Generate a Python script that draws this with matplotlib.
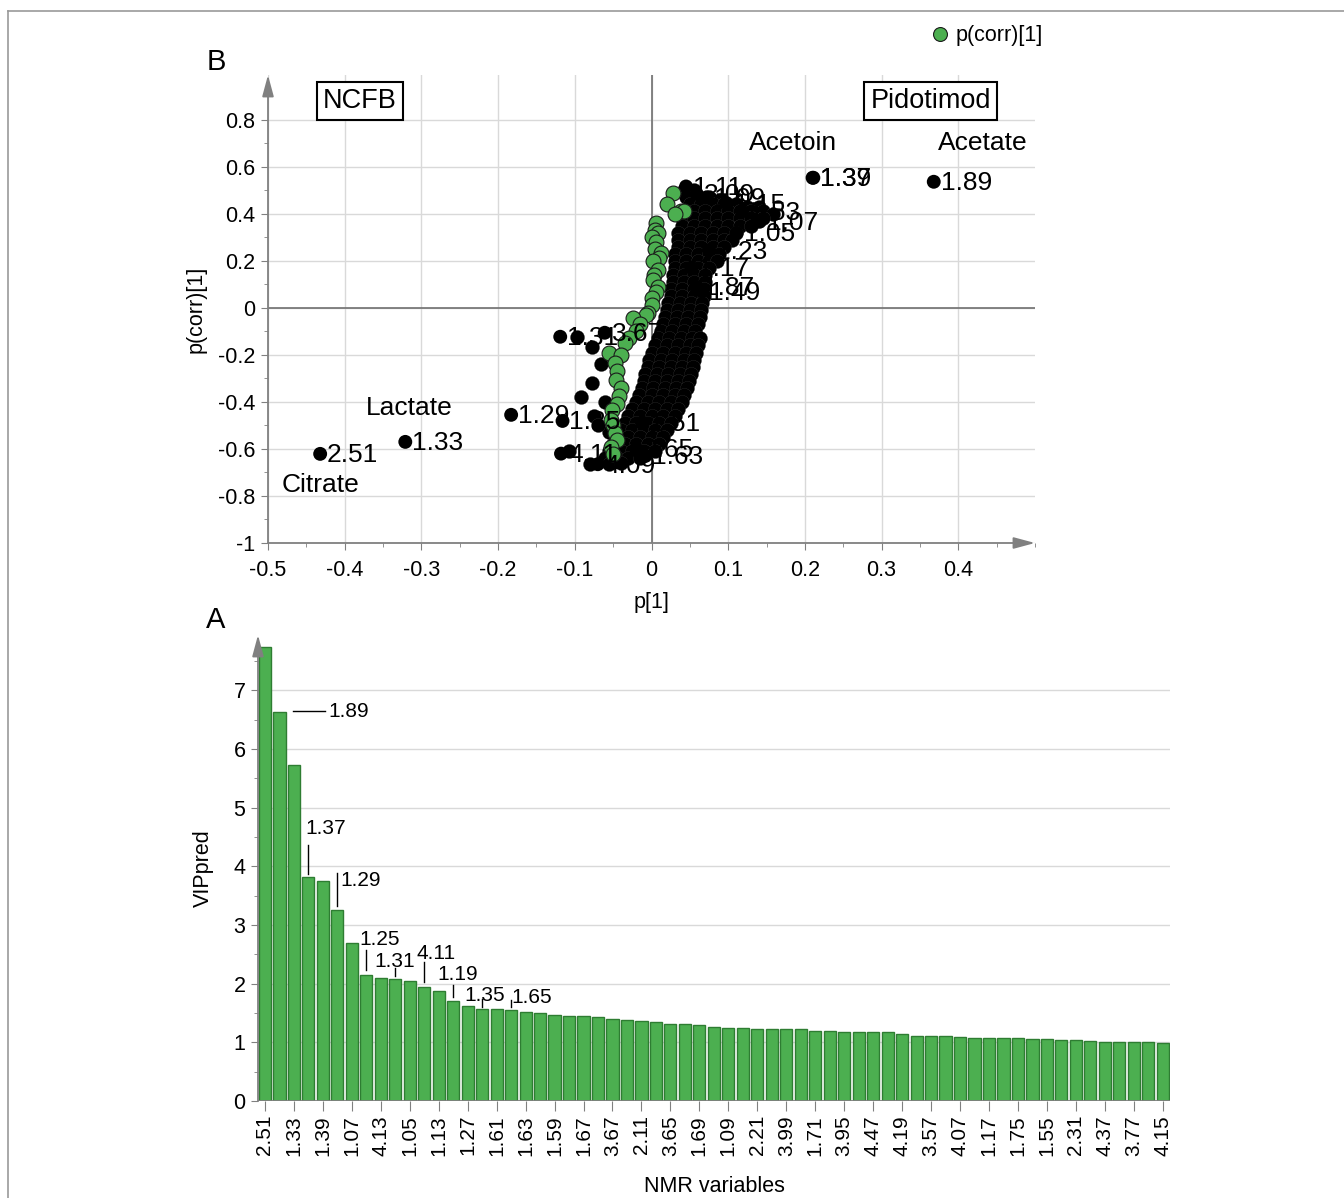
# VIP and S-plot style loadings figure (NCFB vs Pidotimod)

import numpy as np
import matplotlib.pyplot as plt
from matplotlib.lines import Line2D
from matplotlib.ticker import MultipleLocator, FuncFormatter

plt.rcParams['font.family'] = ['Liberation Sans', 'DejaVu Sans']
plt.rcParams['axes.unicode_minus'] = False

# ---------------- data: panel B (p[1] vs p(corr)[1]) ----------------
# labelled black variables (outliers + a few inside the cloud)
named_x = [-0.432, -0.321, -0.183, -0.116, 0.210, 0.211, 0.368,
           0.045, 0.059, 0.072, 0.098, 0.118, 0.141, 0.111, 0.075,
           0.052, 0.058, 0.066, -0.012, -0.118, -0.070, -0.119, -0.061,
           -0.020, -0.008]
named_y = [-0.621, -0.570, -0.455, -0.481, 0.553, 0.553, 0.536,
           0.516, 0.485, 0.470, 0.445, 0.410, 0.366, 0.319, 0.245,
           0.170, 0.090, 0.070, -0.489, -0.620, -0.665, -0.123, -0.106,
           -0.600, -0.630]
named_lab = ['2.51', '1.33', '1.29', '1.25', '1.37', '1.39', '1.89',
             '1.11', '3.09', '1.09', '1.15', '1.53', '1.07', '1.05', '1.23',
             '1.17', '1.87', '1.49', '1.51', '4.11', '4.09', '1.31', '3.67',
             '3.65', '1.63']

# unlabelled black variables forming the dense cloud
cluster_pts = [
    (0.042, 0.50), (0.055, 0.50),
    (0.045, 0.47), (0.060, 0.47), (0.075, 0.47), (0.090, 0.46),
    (0.050, 0.44), (0.065, 0.44), (0.080, 0.44), (0.095, 0.44), (0.110, 0.44), (0.125, 0.43), (0.140, 0.43),
    (0.040, 0.41), (0.055, 0.41), (0.070, 0.41), (0.085, 0.41), (0.100, 0.41), (0.115, 0.41), (0.130, 0.41), (0.145, 0.41), (0.158, 0.40),
    (0.040, 0.38), (0.055, 0.38), (0.070, 0.38), (0.085, 0.38), (0.100, 0.38), (0.115, 0.38), (0.130, 0.38), (0.145, 0.38),
    (0.040, 0.35), (0.055, 0.35), (0.070, 0.35), (0.085, 0.35), (0.100, 0.35), (0.115, 0.35), (0.130, 0.35),
    (0.035, 0.32), (0.050, 0.32), (0.065, 0.32), (0.080, 0.32), (0.095, 0.32), (0.110, 0.32),
    (0.035, 0.29), (0.050, 0.29), (0.065, 0.29), (0.080, 0.29), (0.095, 0.29), (0.105, 0.29),
    (0.035, 0.26), (0.050, 0.26), (0.065, 0.26), (0.080, 0.26), (0.095, 0.26),
    (0.030, 0.23), (0.045, 0.23), (0.060, 0.23), (0.075, 0.23), (0.088, 0.23),
    (0.030, 0.20), (0.045, 0.20), (0.060, 0.20), (0.075, 0.20), (0.085, 0.20),
    (0.030, 0.17), (0.045, 0.17), (0.060, 0.17), (0.075, 0.17),
    (0.028, 0.14), (0.042, 0.14), (0.056, 0.14), (0.070, 0.14),
    (0.028, 0.11), (0.042, 0.11), (0.056, 0.11), (0.070, 0.11),
    (0.025, 0.08), (0.040, 0.08), (0.055, 0.08), (0.068, 0.08),
    (0.025, 0.05), (0.040, 0.05), (0.055, 0.05), (0.068, 0.05),
    (0.022, 0.02), (0.037, 0.02), (0.052, 0.02), (0.066, 0.02),
    (0.020, -0.01), (0.035, -0.01), (0.050, -0.01), (0.065, -0.01),
    (0.018, -0.04), (0.033, -0.04), (0.048, -0.04), (0.063, -0.04),
    (0.015, -0.07), (0.030, -0.07), (0.045, -0.07), (0.060, -0.07),
    (0.012, -0.10), (0.027, -0.10), (0.042, -0.10), (0.057, -0.10),
    (0.008, -0.13), (0.023, -0.13), (0.038, -0.13), (0.053, -0.13), (0.063, -0.13),
    (0.005, -0.16), (0.020, -0.16), (0.035, -0.16), (0.050, -0.16), (0.061, -0.16),
    (0.000, -0.19), (0.015, -0.19), (0.030, -0.19), (0.045, -0.19), (0.058, -0.19),
    (-0.003, -0.22), (0.012, -0.22), (0.027, -0.22), (0.042, -0.22), (0.056, -0.22),
    (-0.005, -0.25), (0.010, -0.25), (0.025, -0.25), (0.040, -0.25), (0.054, -0.25),
    (-0.008, -0.28), (0.007, -0.28), (0.022, -0.28), (0.037, -0.28), (0.052, -0.28),
    (-0.010, -0.31), (0.005, -0.31), (0.020, -0.31), (0.035, -0.31), (0.049, -0.31),
    (-0.013, -0.34), (0.002, -0.34), (0.017, -0.34), (0.032, -0.34), (0.046, -0.34),
    (-0.016, -0.37), (0.000, -0.37), (0.015, -0.37), (0.030, -0.37), (0.043, -0.37),
    (-0.020, -0.40), (-0.005, -0.40), (0.010, -0.40), (0.025, -0.40), (0.040, -0.40),
    (-0.025, -0.43), (-0.010, -0.43), (0.005, -0.43), (0.020, -0.43), (0.035, -0.43),
    (-0.030, -0.46), (-0.015, -0.46), (0.000, -0.46), (0.015, -0.46), (0.030, -0.46),
    (-0.035, -0.49), (-0.020, -0.49), (-0.005, -0.49), (0.010, -0.49), (0.025, -0.49),
    (-0.040, -0.52), (-0.025, -0.52), (-0.010, -0.52), (0.005, -0.52), (0.020, -0.52),
    (-0.045, -0.55), (-0.030, -0.55), (-0.015, -0.55), (0.000, -0.55), (0.015, -0.55),
    (-0.050, -0.58), (-0.035, -0.58), (-0.020, -0.58), (-0.005, -0.58), (0.010, -0.58),
    (-0.055, -0.61), (-0.040, -0.61), (-0.025, -0.61), (-0.010, -0.61), (0.005, -0.61),
    (-0.060, -0.64), (-0.045, -0.64), (-0.030, -0.64), (-0.015, -0.64),
    (-0.080, -0.665), (-0.055, -0.665), (-0.040, -0.66),
    # loose variables left of the cloud
    (-0.097, -0.123), (-0.078, -0.165), (-0.066, -0.240), (-0.077, -0.320),
    (-0.092, -0.380), (-0.075, -0.460), (-0.107, -0.610), (-0.060, -0.400),
    (-0.055, -0.530), (-0.070, -0.500),
]

# green p(corr)[1] markers
green_pts = [
    (0.028, 0.488), (0.039, 0.410), (0.043, 0.410), (0.020, 0.440), (0.030, 0.400),
    (0.006, 0.360), (0.005, 0.330), (0.008, 0.318), (0.000, 0.300), (0.006, 0.282),
    (0.004, 0.250), (0.013, 0.233), (0.010, 0.210), (0.002, 0.197), (0.008, 0.162),
    (0.003, 0.140), (0.002, 0.119), (0.008, 0.090), (0.006, 0.069), (0.000, 0.040),
    (0.000, 0.013), (-0.005, -0.023), (-0.007, -0.030), (-0.024, -0.044), (-0.015, -0.070),
    (-0.020, -0.100), (-0.029, -0.128), (-0.035, -0.150), (-0.055, -0.191), (-0.040, -0.200),
    (-0.048, -0.234), (-0.045, -0.270), (-0.046, -0.306), (-0.040, -0.340), (-0.042, -0.377),
    (-0.045, -0.410), (-0.051, -0.434), (-0.053, -0.477), (-0.050, -0.500), (-0.048, -0.532),
    (-0.045, -0.560), (-0.053, -0.590), (-0.050, -0.620),
]

metab_names = ['Citrate', 'Lactate', 'Acetoin', 'Acetate']
metab_anchor = [0, 1, 4, 6]          # index into named_x / named_y
group_names = ['NCFB', 'Pidotimod']
group_x = [-0.380, 0.364]
group_y = [0.881, 0.881]

# ---------------- data: panel A (VIPpred) ----------------
vip_values = [7.73, 6.63, 5.72, 3.81, 3.74, 3.25, 2.69, 2.15, 2.10, 2.08,
              2.05, 1.95, 1.87, 1.71, 1.62, 1.56, 1.56, 1.55, 1.52, 1.50,
              1.47, 1.45, 1.44, 1.43, 1.39, 1.38, 1.37, 1.34, 1.32, 1.32,
              1.29, 1.26, 1.25, 1.25, 1.23, 1.23, 1.22, 1.22, 1.20, 1.19,
              1.18, 1.18, 1.17, 1.17, 1.15, 1.11, 1.11, 1.10, 1.09, 1.07,
              1.07, 1.07, 1.07, 1.06, 1.06, 1.04, 1.04, 1.03, 1.01, 1.00,
              1.00, 1.00, 0.99]
vip_ticklabels = ['2.51', '1.33', '1.39', '1.07', '4.13', '1.05', '1.13', '1.27',
                  '1.61', '1.63', '1.59', '1.67', '3.67', '2.11', '3.65', '1.69',
                  '1.09', '2.21', '3.99', '1.71', '3.95', '4.47', '4.19', '3.57',
                  '4.07', '1.17', '1.75', '1.55', '2.31', '4.37', '3.77', '4.15']
vip_annot_idx = [1, 3, 5, 7, 9, 11, 13, 15, 17]
vip_annot_lab = ['1.89', '1.37', '1.29', '1.25', '1.31', '4.11', '1.19', '1.35', '1.65']

# ---------------- figure ----------------
W, H = 1344, 1198
fig = plt.figure(figsize=(W / 100, H / 100), dpi=100)

GRAY = '#808080'
GRID = '#d9d9d9'
BAR_FILL = '#4caf50'
BAR_EDGE = '#2e7d32'

def fig_rect(l, t, r, b):
    return [l / W, 1 - b / H, (r - l) / W, (b - t) / H]

def arrow_axes(ax):
    for s in ax.spines.values():
        s.set_visible(False)
    ax.annotate('', xy=(0, 1), xytext=(0, 0), xycoords='axes fraction',
                arrowprops=dict(arrowstyle='-|>,head_length=1.3,head_width=0.35',
                                color=GRAY, lw=1.3, shrinkA=0, shrinkB=0))

# ----- panel B -----
axB = fig.add_axes(fig_rect(268, 75, 1035, 543))
axB.set_xlim(-0.5, 0.5)
axB.set_ylim(-1, 0.99)
arrow_axes(axB)
axB.annotate('', xy=(1, 0), xytext=(0, 0), xycoords='axes fraction',
             arrowprops=dict(arrowstyle='-|>,head_length=1.3,head_width=0.35',
                             color=GRAY, lw=1.3, shrinkA=0, shrinkB=0))

axB.xaxis.set_minor_locator(MultipleLocator(0.05))
axB.yaxis.set_minor_locator(MultipleLocator(0.1))
fmt = FuncFormatter(lambda v, p: '%g' % round(v, 2))
axB.set_xticks([t / 10 for t in range(-5, 5)])
axB.set_yticks([t / 10 for t in range(-10, 9, 2)])
axB.xaxis.set_major_formatter(fmt)
axB.yaxis.set_major_formatter(fmt)
axB.tick_params(which='major', length=5, color=GRAY, labelsize=15.5)
axB.tick_params(axis='x', which='major', pad=7)
axB.tick_params(axis='y', which='major', pad=4)
axB.tick_params(which='minor', length=3, color=GRAY)
axB.grid(True, which='major', color=GRID, lw=1)
axB.set_axisbelow(True)
axB.axhline(0, color='#707070', lw=1.2, zorder=1)
axB.axvline(0, color='#707070', lw=1.2, zorder=1)

cx = [p[0] for p in cluster_pts]
cy = [p[1] for p in cluster_pts]
axB.scatter(cx, cy, s=105, c='black', edgecolors='#555555', linewidths=0.15, zorder=2)
axB.scatter(named_x, named_y, s=100, c='black', edgecolors='none', zorder=2)
gx = [p[0] for p in green_pts]
gy = [p[1] for p in green_pts]
axB.scatter(gx, gy, s=115, c=BAR_FILL, edgecolors='#1a1a1a', linewidths=0.8, zorder=3)

for x, y, lab in zip(named_x, named_y, named_lab):
    axB.annotate(lab, (x, y), xytext=(5, -1), textcoords='offset points',
                 fontsize=19, va='center', ha='left', zorder=4)

# metabolite names (offsets in pixels from their point)
metab_off = [(0, -31), (4, 34), (-20, 35), (49, 39)]
for name, i, (dx, dy) in zip(metab_names, metab_anchor, metab_off):
    axB.annotate(name, (named_x[i], named_y[i]), xytext=(dx * 0.72, dy * 0.72),
                 textcoords='offset points', fontsize=19, ha='center', va='center')

for name, x, y in zip(group_names, group_x, group_y):
    axB.text(x, y, name, fontsize=19.5, ha='center', va='center',
             bbox=dict(boxstyle='square,pad=0.22', fc='white', ec='black', lw=1.5))

axB.set_xlabel('p[1]', fontsize=15.5, labelpad=8)
axB.set_ylabel('p(corr)[1]', fontsize=15.5, labelpad=8)

leg_handle = Line2D([], [], marker='o', ls='', mfc=BAR_FILL, mec='#1a1a1a', ms=10, mew=0.8)
fig.legend([leg_handle], ['p(corr)[1]'], loc='center left',
           bbox_to_anchor=(929 / W, 1 - 36 / H), frameon=False, fontsize=15.5,
           handlelength=1, handletextpad=0.25, borderpad=0, borderaxespad=0)

# ----- panel A -----
axA = fig.add_axes(fig_rect(258, 635, 1170, 1101))
pos = np.arange(len(vip_values))
axA.bar(pos, vip_values, width=0.84, color=BAR_FILL, edgecolor=BAR_EDGE, lw=1, zorder=2)
axA.set_xlim(-0.48, 62.5)
axA.set_ylim(0, 7.94)
arrow_axes(axA)
axA.axhline(0, color=GRAY, lw=1.3, zorder=3)
axA.yaxis.set_major_locator(MultipleLocator(1))
axA.yaxis.set_minor_locator(MultipleLocator(0.5))
axA.set_xticks(pos[::2])
axA.set_xticklabels(vip_ticklabels, rotation=90)
axA.tick_params(axis='x', length=7, color=GRAY, labelsize=15, pad=3)
axA.tick_params(axis='y', which='major', length=5, color=GRAY, labelsize=15.5, pad=4)
axA.tick_params(axis='y', which='minor', length=3, color=GRAY)
axA.grid(True, axis='y', color=GRID, lw=1)
axA.set_axisbelow(True)
axA.set_xlabel('NMR variables', fontsize=15.5, labelpad=15)
axA.set_ylabel('VIPpred', fontsize=15.5, labelpad=14)

# callouts: (text x offset, text y, line bottom, line top) in data units
annot_layout = [(3.4, 6.64, None, None), (-0.24, 4.65, 3.86, 4.36), (0.2, 3.75, 3.33, 3.88),
                (-0.45, 2.76, 2.23, 2.57), (-1.45, 2.37, 2.13, 2.27), (-0.55, 2.52, 2.03, 2.37),
                (-1.1, 2.16, 1.77, 1.98), (-1.25, 1.79, 1.60, 1.74), (0.05, 1.77, 1.61, 1.72)]
for i, lab, (dx, ty, lb, lt) in zip(vip_annot_idx, vip_annot_lab, annot_layout):
    if lb is None:
        axA.plot([i + 0.93, i + 3.14], [ty, ty], color='black', lw=1, zorder=4)
    else:
        axA.plot([i, i], [lb, lt], color='black', lw=1, zorder=4)
    axA.text(i + dx, ty, lab, fontsize=15, ha='left', va='center', zorder=4)

# panel letters and outer frame
fig.text(216 / W, 1 - 62 / H, 'B', fontsize=21, ha='center', va='center')
fig.text(216 / W, 1 - 620 / H, 'A', fontsize=21, ha='center', va='center')
fig.add_artist(Line2D([8 / W, 1], [1 - 11 / H, 1 - 11 / H], color='#999999', lw=1.2))
fig.add_artist(Line2D([8 / W, 8 / W], [0, 1 - 11 / H], color='#999999', lw=1.2))

fig.savefig('out.png', dpi=100)
